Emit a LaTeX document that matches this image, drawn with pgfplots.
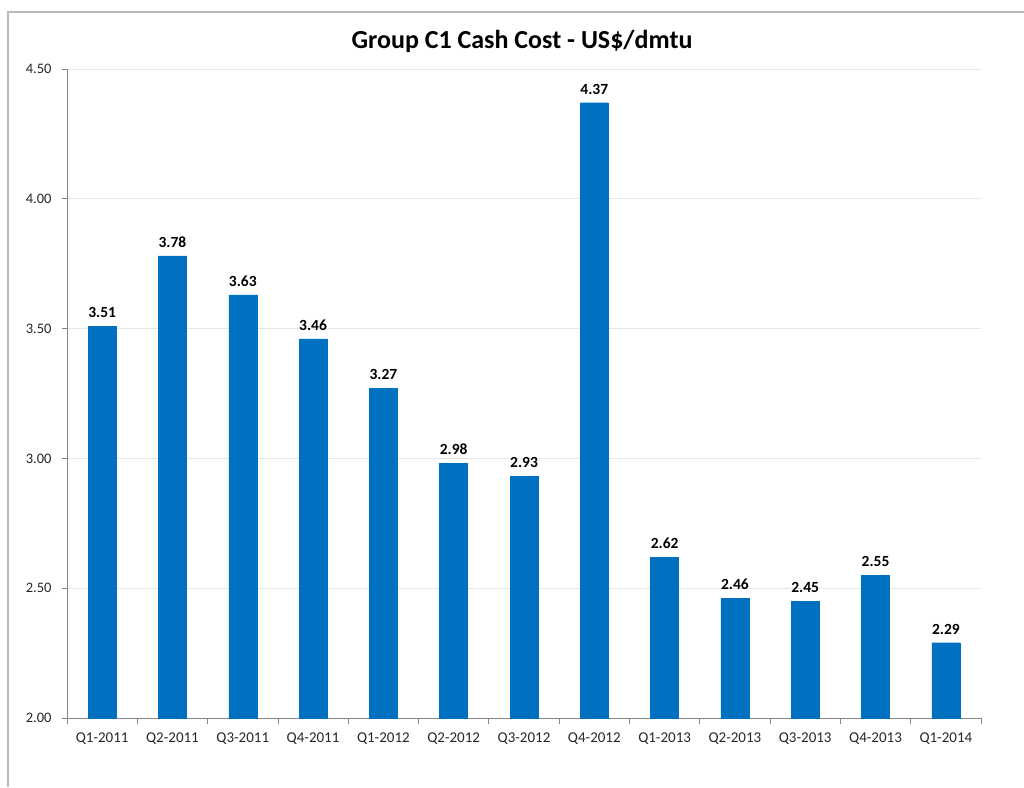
\documentclass[border=0pt]{standalone}
\usepackage{pgfplots}
\pgfplotsset{compat=1.18}
\usepackage{fontspec}
\setmainfont{Carlito}
\definecolor{barblue}{HTML}{0070C0}
\definecolor{axisgray}{HTML}{868686}
\definecolor{gridgray}{HTML}{E6E6E6}
\begin{document}
\begin{tikzpicture}
\useasboundingbox (0,0) rectangle (1024pt,787pt);
\draw[color=gray!55, line width=1.2pt] (8pt,0) -- (8pt,775pt) -- (1024pt,775pt);
\node[font=\bfseries\fontsize{26}{30}\selectfont, anchor=center] at (522pt,746pt) {Group C1 Cash Cost - US\$/dmtu};
\begin{axis}[
  at={(67pt,69pt)}, anchor=south west,
  scale only axis, width=914pt, height=649pt,
  xmin=-0.5, xmax=12.5, ymin=2, ymax=4.5,
  ybar, bar width=28pt,
  axis x line*=bottom, axis y line*=left,
  axis line style={axisgray, line width=0.8pt},
  xtick={0,...,12},
  xticklabels={Q1-2011,Q2-2011,Q3-2011,Q4-2011,Q1-2012,Q2-2012,Q3-2012,Q4-2012,Q1-2013,Q2-2013,Q3-2013,Q4-2013,Q1-2014},
  major x tick style={draw=none},
  minor xtick={-0.5,0.5,...,12.5},
  minor tick length=6pt,
  minor x tick style={axisgray, line width=0.8pt},
  xtick pos=bottom, ytick pos=left,
  tick align=outside,
  ytick={2,2.5,...,4.5},
  major tick length=5pt,
  y tick style={axisgray, line width=0.8pt},
  yticklabel style={/pgf/number format/fixed, /pgf/number format/fixed zerofill, /pgf/number format/precision=2},
  /pgf/number format/assume math mode=true,
  ticklabel style={color=black!85},
  xticklabel style={font=\fontsize{15}{17}\selectfont, yshift=-6pt},
  yticklabel style={font=\fontsize{14.5}{17}\selectfont, xshift=-7pt},
  ymajorgrids, grid style={gridgray, line width=0.8pt},
  nodes near coords,
  nodes near coords style={font=\bfseries\fontsize{15.5}{18}\selectfont, /pgf/number format/fixed, /pgf/number format/fixed zerofill, /pgf/number format/precision=2, yshift=5pt},
  clip=false,
]
\addplot[fill=barblue, draw=barblue] coordinates {
(0,3.51) (1,3.78) (2,3.63) (3,3.46) (4,3.27) (5,2.98) (6,2.93) (7,4.37) (8,2.62) (9,2.46) (10,2.45) (11,2.55) (12,2.29)};
\end{axis}
\end{tikzpicture}
\end{document}
